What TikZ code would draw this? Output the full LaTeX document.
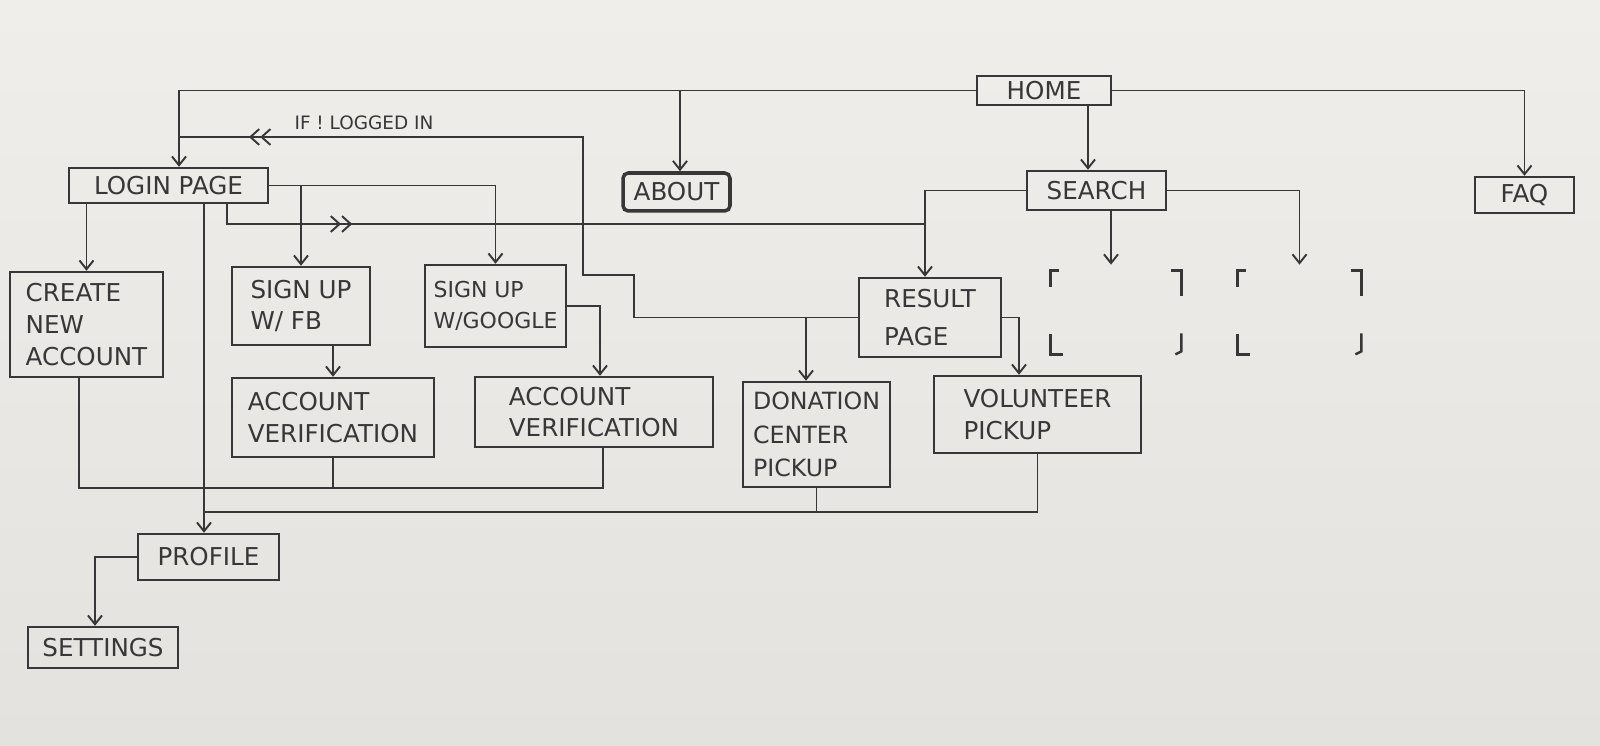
\documentclass[tikz,border=0pt]{standalone}
\usepackage{fontspec}
\setmainfont{DejaVu Sans}
\usetikzlibrary{arrows.meta,decorations.markings,calc}
\definecolor{paper}{RGB}{239,238,235}
\definecolor{paperdark}{RGB}{227,226,223}
\definecolor{ink}{RGB}{55,55,55}
\begin{document}
\begin{tikzpicture}[x=0.02cm,y=-0.02cm,
  box/.style={draw=ink, line width=1.4pt, text=ink, font=\fontsize{14}{18}\selectfont, align=left, inner sep=0pt},
  conn/.style={draw=ink, line width=1.1pt},
  arr/.style={conn, -{Straight Barb[length=5pt,width=8pt]}},
  brk/.style={draw=ink, line width=1.4pt},
  lbl/.style={text=ink, font=\fontsize{10.5}{12}\selectfont, inner sep=1pt},
  dblmark/.style={postaction={decorate}, decoration={markings,
     mark=at position #1 with {\arrow{Straight Barb[length=5pt,width=9pt]Straight Barb[length=5pt,width=9pt]}}}}]

\shade[top color=paper, bottom color=paperdark] (0,0) rectangle (1600,746);
\useasboundingbox (0,0) rectangle (1600,746);

% nodes
\node[box, minimum width=2.68cm, minimum height=0.58cm] (home) at (1044,90.5) {HOME};
\node[box, line width=2pt, rounded corners=3pt, minimum width=2.14cm, minimum height=0.76cm] (about) at (676.5,192) {ABOUT};
\node[box, minimum width=1.98cm, minimum height=0.72cm] (faq) at (1524.5,195) {FAQ};
\node[box, minimum width=2.78cm, minimum height=0.78cm] (search) at (1096.5,190.5) {SEARCH};
\node[box, minimum width=3.98cm, minimum height=0.70cm] (login) at (168.5,185.5) {LOGIN PAGE};
\node[box, minimum width=3.06cm, minimum height=2.10cm] (create) at (86.5,324.5) {CREATE\\ NEW\\ACCOUNT};
\node[box, minimum width=2.76cm, minimum height=1.56cm] (fb) at (301,306) {SIGN UP\\W/ FB};
\node[box, font=\fontsize{12.5}{18}\selectfont, minimum width=2.82cm, minimum height=1.64cm] (google) at (495.5,306) {SIGN UP\\W/GOOGLE};
\node[box, minimum width=4.04cm, minimum height=1.58cm] (av1) at (333,417.5) {ACCOUNT\\VERIFICATION};
\node[box, minimum width=4.76cm, minimum height=1.40cm] (av2) at (594,412) {ACCOUNT\\VERIFICATION};
\node[box, font=\fontsize{14}{22}\selectfont, minimum width=2.84cm, minimum height=1.58cm] (result) at (930,317.5) {RESULT\\PAGE};
\node[box, font=\fontsize{13.5}{19}\selectfont, minimum width=2.94cm, minimum height=2.10cm] (donation) at (816.5,434.5) {DONATION\\CENTER\\PICKUP};
\node[box, minimum width=4.14cm, minimum height=1.54cm] (volunteer) at (1037.5,414.5) {VOLUNTEER\\PICKUP};
\node[box, minimum width=2.82cm, minimum height=0.92cm] (profile) at (208.5,557) {PROFILE};
\node[box, minimum width=3.00cm, minimum height=0.82cm] (settings) at (103,647.5) {SETTINGS};

% placeholders
\node[minimum width=2.6cm, minimum height=1.66cm, inner sep=0pt] (p1) at (1116,312.5) {};
\node[minimum width=2.46cm, minimum height=1.66cm, inner sep=0pt] (p2) at (1299.5,312.5) {};
\foreach \p in {p1,p2} {
  \draw[brk] ([yshift=-0.32cm]\p.north west) -- (\p.north west) -- ++(0.16cm,0);
  \draw[brk] ([xshift=-0.2cm]\p.north east) -- (\p.north east) -- ++(0,-0.5cm);
  \draw[brk] ([yshift=0.4cm]\p.south west) -- (\p.south west) -- ++(0.24cm,0);
  \draw[brk] ([yshift=0.42cm]\p.south east) -- ([yshift=0.06cm]\p.south east) -- ++(-0.12cm,-0.06cm);
}

% helper x positions
\coordinate (c179) at (179,0);
\coordinate (c680) at (680,0);
\coordinate (c1088) at (1088,0);
\coordinate (c925) at (925,0);
\coordinate (c1111) at (1111,0);
\coordinate (c600) at (600,0);
\coordinate (c204) at (204,0);
\coordinate (c227) at (227,0);
\coordinate (c806) at (806,0);
\coordinate (c1019) at (1019,0);
\coordinate (c95) at (95,0);
\coordinate (jLR) at (925,224);
\coordinate (jL1) at (634,275);
\coordinate (jL2) at (583,137);
\coordinate (jB1) at (79,488);
\coordinate (jB2) at (603,488);
\coordinate (jB3) at (204,512);

% connectors from HOME
\draw[arr] (home.west) -| (login.north -| c179);
\draw[arr] (home.west -| c680) -- (about.north -| c680);
\draw[arr] (home.east) -| (faq.north);
\draw[arr] (home.south -| c1088) -- (search.north -| c1088);

% SEARCH
\draw[arr] (search.west) -| (result.north -| c925);
\draw[arr, shorten >=0.12cm] (search.south -| c1111) -- (p1.north -| c1111);
\draw[arr, shorten >=0.12cm] (search.east) -| (p2.north);

% LOGIN
\draw[arr] (login.east) -| (google.north);
\draw[arr] (login.east -| fb.north) -- (fb.north);
\draw[arr] (login.south -| create.north) -- (create.north);
\draw[arr] (login.south -| c204) -- (profile.north -| c204);
\draw[conn, dblmark=2.9cm] (login.south -| c227) |- (jLR);

\draw[arr] (fb.south -| av1.north) -- (av1.north);
\draw[arr] (google.east) -| (av2.north -| c600);

% if not logged in
\draw[conn, dblmark=-1.4cm] (result.west) -| (jL1) -| (jL2) -- (jL2 -| c179);
\node[lbl] (iflbl) at (364,123) {IF ! LOGGED IN};

% RESULT
\draw[arr] (result.west -| c806) -- (donation.north -| c806);
\draw[arr] (result.east) -| (volunteer.north -| c1019);

% bottom joins
\draw[conn] (create.south -| jB1) -- (jB1) -- (jB2) -- (av2.south -| jB2);
\draw[conn] (av1.south) -- (av1.south |- jB1);
\draw[conn] (volunteer.south) |- (jB3);
\draw[conn] (donation.south) -- (donation.south |- jB3);

% PROFILE
\draw[arr] (profile.west) -| (settings.north -| c95);
\end{tikzpicture}
\end{document}
